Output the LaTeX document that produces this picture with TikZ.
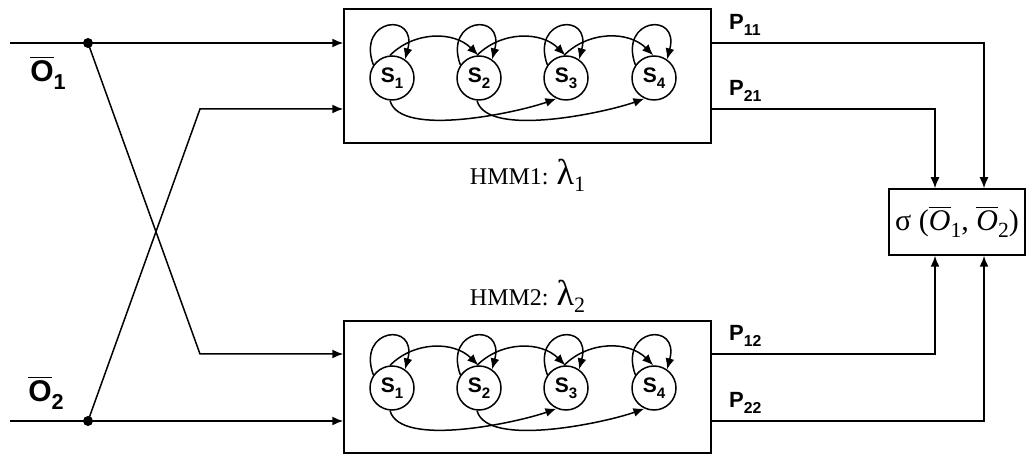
\documentclass[tikz,border=0pt]{standalone}
\usepackage{fontspec}
\setmainfont{Liberation Serif}
\setsansfont{Liberation Sans}
\usetikzlibrary{arrows.meta,positioning}

% lowered index, as in S1 or P11, scaled to the current size
\makeatletter
\newcommand{\lowidx}[1]{\raisebox{-0.5ex}{\fontsize{\the\dimexpr0.72\dimexpr\f@size pt\relax\relax}{1pt}\selectfont #1}}
\makeatother

\tikzset{
  arr/.style={-{Latex[length=5.5pt,width=4.5pt]}},
  hmmbox/.style={draw,minimum width=183.5pt,minimum height=67pt,inner sep=0pt},
  state/.style={draw,circle,minimum size=22pt,inner sep=0pt,
    font=\sffamily\bfseries\fontsize{10.5}{10.5}\selectfont},
  plabel/.style={anchor=south west,xshift=5pt,yshift=0pt,
    font=\sffamily\bfseries\fontsize{11}{11}\selectfont},
  olabel/.style={font=\sffamily\bfseries\fontsize{15}{15}\selectfont},
  hmmlabel/.style={font=\fontsize{12}{12}\selectfont},
  dot/.style={circle,fill,inner sep=0pt,minimum size=5pt},
}

\begin{document}
\begin{tikzpicture}[x=0.5pt,y=0.5pt,line width=0.75pt]
\useasboundingbox (0,0) rectangle (1027,455);

% the two models
\node[hmmbox] (hmm1) at (527.5,379) {};
\node[hmmbox,minimum height=66pt] (hmm2) at (527.5,68) {};
\node[hmmlabel,below=4pt of hmm1] (lab1) {HMM1: {\fontsize{18}{18}\selectfont λ}\raisebox{-3.5pt}{\fontsize{11}{11}\selectfont 1}};
\node[hmmlabel,above=0pt of hmm2] (lab2) {HMM2: {\fontsize{18}{18}\selectfont λ}\raisebox{-3.5pt}{\fontsize{11}{11}\selectfont 2}};

% states and transitions
\foreach \m/\yy in {1/377,2/67}{
  \foreach \i/\xx in {1/392,2/479,3/566,4/654}
    \node[state] (s\m\i) at (\xx,\yy) {S\lowidx{\i}};
  \foreach \i in {1,...,4}
    \draw[arr] (s\m\i.145) .. controls +(110:25pt) and +(75:25pt) .. (s\m\i.55);
  \foreach \i/\j in {1/2,2/3,3/4}
    \draw[arr] (s\m\i.95) to[bend left=45] (s\m\j.92);
  \foreach \i/\j in {1/3,2/4}
    \draw[arr] (s\m\i.-95) to[out=-75,in=-160,looseness=0.6] (s\m\j.-115);
}

% inputs
\coordinate (in1) at (10,412);
\coordinate (in2) at (10,34);
\node[dot] (d1) at (88,412) {};
\node[dot] (d2) at (88,34) {};
\coordinate (k1) at (200,346);
\coordinate (k2) at (200,101);
\node[olabel] (o1) at (48,382) {$\overline{\hbox{O}}$\lowidx{1}};
\node[olabel] (o2) at (46,62) {$\overline{\hbox{O}}$\lowidx{2}};

\draw[arr] (in1) -- (hmm1.west |- in1);
\draw[arr] (in2) -- (hmm2.west |- in2);
\draw[arr] (d1.center) -- (k2) -- (hmm2.west |- k2);
\draw[arr] (d2.center) -- (k1) -- (hmm1.west |- k1);

% score
\node[draw,minimum width=68pt,minimum height=33pt,inner sep=0pt,
  font=\fontsize{15}{15}\selectfont] (sig) at (957,233)
  {σ (\textit{$\overline{\hbox{O}}$}\lowidx{1}, \textit{$\overline{\hbox{O}}$}\lowidx{2})};
\coordinate (c1) at (935,0);
\coordinate (c2) at (984,0);

\draw[arr] (hmm1.east |- in1) node[plabel] {P\lowidx{11}} -| (sig.north -| c2);
\draw[arr] (hmm1.east |- k1) node[plabel] {P\lowidx{21}} -| (sig.north -| c1);
\draw[arr] (hmm2.east |- k2) node[plabel] {P\lowidx{12}} -| (sig.south -| c1);
\draw[arr] (hmm2.east |- in2) node[plabel] {P\lowidx{22}} -| (sig.south -| c2);
\end{tikzpicture}
\end{document}
